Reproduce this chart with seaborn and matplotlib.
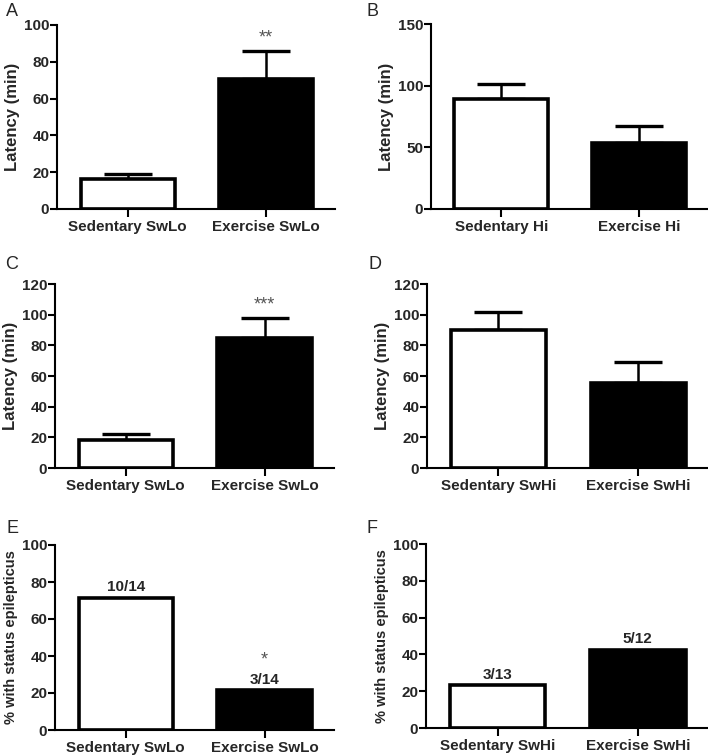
import numpy as np
import matplotlib
matplotlib.use('Agg')
import matplotlib.pyplot as plt
import seaborn as sns

sns.set_style('white')
plt.rcParams['font.family'] = ['Liberation Sans', 'DejaVu Sans']

# data
groups_swlo = ['Sedentary SwLo', 'Exercise SwLo']
groups_hi = ['Sedentary Hi', 'Exercise Hi']
groups_swhi = ['Sedentary SwHi', 'Exercise SwHi']

lat_a = [16.1, 70.8]
sem_a = [2.8, 14.9]
lat_b = [89.1, 53.9]
sem_b = [12.4, 13.0]
lat_c = [18.4, 84.7]
sem_c = [4.1, 13.0]
lat_d = [89.8, 55.5]
sem_d = [11.8, 13.9]
pct_e = [71.4, 21.4]
count_e = ['10/14', '3/14']
pct_f = [23.1, 42.5]
count_f = ['3/13', '5/12']

bar_colors = ['white', 'black']

W, H = 708, 755
fig = plt.figure(figsize=(W / 100, H / 100), dpi=100)


def make_ax(x0, x1, ytop, ybot):
    return fig.add_axes([x0 / W, 1 - ybot / H, (x1 - x0) / W, (ybot - ytop) / H])


def bar_panel(ax, cats, vals, ymax, step, ylabel, errs=None, ylsize=12,
              star=None, counts=None):
    sns.barplot(x=cats, y=vals, hue=cats, palette=bar_colors, legend=False,
                edgecolor='black', linewidth=2.6, width=0.68, ax=ax,
                errorbar=None, saturation=1)
    if errs is not None:
        ax.errorbar(range(len(cats)), vals, yerr=[[0] * len(cats), errs],
                    fmt='none', ecolor='black', elinewidth=1.8,
                    capsize=17, capthick=2.4, zorder=0.5)
    ax.set_xlim(-0.51, 1.5)
    ax.set_ylim(0, ymax)
    ax.set_yticks(np.arange(0, ymax + 1, step))
    sns.despine(ax=ax)
    for s in ['left', 'bottom']:
        ax.spines[s].set_linewidth(1.5)
        ax.spines[s].set_color('black')
    ax.spines['left'].set_bounds(0, ymax)
    ax.tick_params(axis='y', left=True, direction='out', length=5, width=1.5,
                   color='black', labelsize=11, pad=0.5)
    ax.tick_params(axis='x', bottom=True, direction='out', length=6, width=1.5,
                   color='black', labelsize=11, pad=2)
    for t in ax.get_xticklabels() + ax.get_yticklabels():
        t.set_fontweight('bold')
    ax.set_ylabel(ylabel, fontsize=ylsize, fontweight='bold', labelpad=3)
    ax.set_xlabel('')
    ax.patch.set_alpha(0)
    if star is not None:
        i, y, txt = star
        ax.text(i, y, txt, ha='center', va='center', fontsize=13, color='#555555')
    if counts is not None:
        for i, (v, c) in enumerate(zip(vals, counts)):
            ax.text(i, v + ymax * 0.02, c, ha='center', va='bottom',
                    fontsize=11, fontweight='bold')


def letter(txt, x, y):
    fig.text(x / W, 1 - y / H, txt, fontsize=13, ha='left', va='top')


ax_a = make_ax(57, 335, 25, 209)
bar_panel(ax_a, groups_swlo, lat_a, 100, 20, 'Latency (min)', sem_a,
          star=(1, 93, '**'))
letter('A', 6, 3)

ax_b = make_ax(431, 708, 24, 209)
bar_panel(ax_b, groups_hi, lat_b, 150, 50, 'Latency (min)', sem_b)
letter('B', 367, 3)

ax_c = make_ax(55, 334, 284, 468)
bar_panel(ax_c, groups_swlo, lat_c, 120, 20, 'Latency (min)', sem_c,
          star=(1, 106, '***'))
letter('C', 5, 256)

ax_d = make_ax(427, 708, 284, 468)
bar_panel(ax_d, groups_swhi, lat_d, 120, 20, 'Latency (min)', sem_d)
letter('D', 368, 256)

ax_e = make_ax(55, 334, 545, 730)
bar_panel(ax_e, groups_swlo, pct_e, 100, 20, '% with status epilepticus',
          ylsize=10.5, star=(1, 38, '*'), counts=count_e)
letter('E', 7, 520)

ax_f = make_ax(426, 708, 544, 728)
bar_panel(ax_f, groups_swhi, pct_f, 100, 20, '% with status epilepticus',
          ylsize=10.5, counts=count_f)
letter('F', 367, 520)

fig.savefig('out.png', dpi=100, facecolor='white')
